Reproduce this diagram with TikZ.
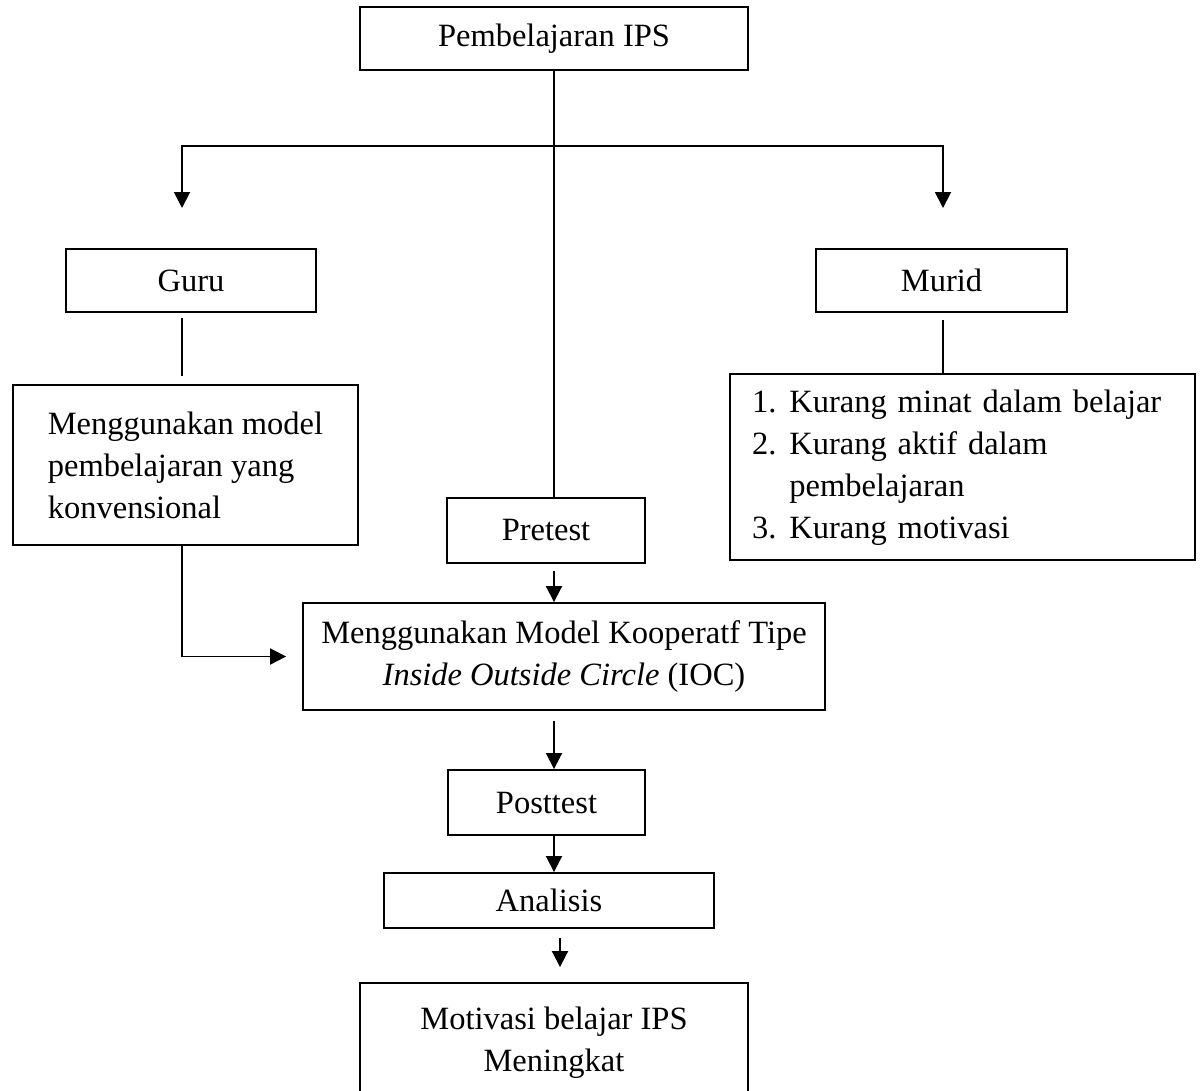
\documentclass[tikz,border=0pt]{standalone}
\usepackage{fontspec}
\setmainfont{Liberation Serif}
\usetikzlibrary{arrows.meta,calc}

\begin{document}
\begin{tikzpicture}[
  x=0.02cm, y=-0.02cm,
  font=\fontsize{18.5}{23.9}\selectfont,
  box/.style={draw, line width=1.1pt, inner sep=0pt, align=center},
  ln/.style={line width=1.1pt},
  ar/.style={-{Triangle[length=3.2mm,width=3.2mm]}, line width=1.1pt}
]
\useasboundingbox (0,0) rectangle (1200,1090);
\clip (0,0) rectangle (1200,1090);

% boxes
\node[box, minimum width=7.76cm, minimum height=1.26cm] (top) at (554,38.5) {Pembelajaran IPS};
\node[box, minimum width=5cm, minimum height=1.26cm] (guru) at (191,280.5) {Guru};
\node[box, minimum width=5.02cm, minimum height=1.26cm] (murid) at (941.5,280.5) {Murid};
\node[box, align=left, minimum width=6.9cm, minimum height=3.2cm] (konv) at (185.5,465)
  {Menggunakan model\\pembelajaran yang\\konvensional};
\node[box, align=left, inner xsep=0.44cm, text width=8.42cm, minimum height=3.72cm] (kurang) at (962.5,467)
  {\begin{tabular}{@{}r@{\hspace{0.26cm}}l@{}}
   1. & Kurang minat dalam belajar\\
   2. & Kurang aktif dalam\\
      & pembelajaran\\
   3. & Kurang motivasi
   \end{tabular}};
\node[box, minimum width=3.96cm, minimum height=1.3cm] (pre) at (546,530.5) {Pretest};
\node[box, minimum width=10.44cm, minimum height=2.14cm] (koop) at (564,656.5)
  {Menggunakan Model Kooperatf Tipe\\\textit{Inside Outside Circle} (IOC)};
\node[box, minimum width=3.94cm, minimum height=1.3cm] (post) at (546.5,802.5) {Posttest};
\node[box, minimum width=6.6cm, minimum height=1.1cm] (ana) at (549,900.5) {Analisis};
\node[box, minimum width=7.76cm, minimum height=2.4cm] (hasil) at (554,1043)
  {Motivasi belajar IPS\\Meningkat};

% helper points
\coordinate (colL) at (182,0);
\coordinate (colR) at (943,0);
\coordinate (colM) at (560,0);
\coordinate (fork) at (554,146);
\coordinate (tipL) at (182,208);
\coordinate (tipR) at (943,208);

% connectors
\draw[ln] (top.south) -- (top.south |- pre.north);
\draw[ar] (fork) -| (tipL);
\draw[ar] (fork) -| (tipR);
\draw[ln, shorten <=0.1cm, shorten >=0.16cm] (colL |- guru.south) -- (colL |- konv.north);
\draw[ln, shorten <=0.14cm] (colR |- murid.south) -- (colR |- kurang.north);
\draw[ar, shorten >=0.32cm] (colL |- konv.south) |- (koop.west);
\draw[ar, shorten <=0.14cm] (top.south |- pre.south) -- (top.south |- koop.north);
\draw[ar, shorten <=0.2cm] (top.south |- koop.south) -- (top.south |- post.north);
\draw[ar] (top.south |- post.south) -- (top.south |- ana.north);
\draw[ar, shorten <=0.18cm, shorten >=0.3cm] (colM |- ana.south) -- (colM |- hasil.north);
\end{tikzpicture}
\end{document}
